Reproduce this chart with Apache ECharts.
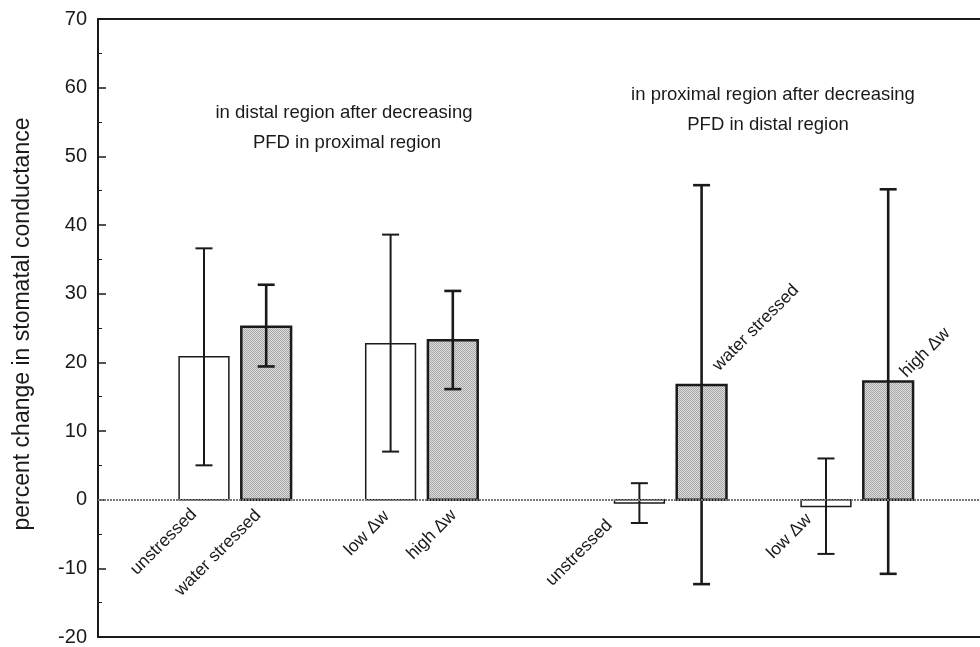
<!DOCTYPE html>
<html>
<head>
<meta charset="utf-8">
<script src="https://cdn.jsdelivr.net/npm/echarts@6/dist/echarts.min.js"></script>
<style>
html,body{margin:0;padding:0;background:#fff;}
#chart{width:980px;height:647px;}
</style>
</head>
<body>
<div id="chart"></div>
<script>
// ---- data ----
const categories = ['unstressed', 'water stressed', 'low \u0394w', 'high \u0394w',
                    'unstressed', 'water stressed', 'low \u0394w', 'high \u0394w'];
const xPositions = [1, 2, 4, 5, 8, 9, 11, 12];
const means   = [20.8, 25.2, 22.7, 23.2, -0.5, 16.7, -1.0, 17.2];
const errLow  = [5.0, 19.4, 7.0, 16.1, -3.4, -12.3, -7.9, -10.8];
const errHigh = [36.6, 31.3, 38.6, 30.4, 2.4, 45.8, 6.0, 45.2];
const stressed = [0, 1, 0, 1, 0, 1, 0, 1];
const yTicks = [-20, -10, 0, 10, 20, 30, 40, 50, 60, 70];
const yTitle = 'percent change in stomatal conductance';
const noteLeft = ['in distal region after decreasing', 'PFD in proximal region'];
const noteRight = ['in proximal region after decreasing', 'PFD in distal region'];

// ---- layout (pixels, not data) ----
const FONT = "'Liberation Sans', Arial, Helvetica, sans-serif";
const BAR_WIDTH = 0.8;
const LABEL_LAYOUT = [
  {side: 'below', dx: -10, dy: 12},
  {side: 'below', dx: -8,  dy: 13},
  {side: 'below', dx: -4,  dy: 14},
  {side: 'below', dx: 1,   dy: 13},
  {side: 'below', dx: -30, dy: 23},
  {side: 'above', dx: 14,  dy: -17},
  {side: 'below', dx: -17, dy: 17},
  {side: 'above', dx: 15,  dy: -7}
];

// stipple pattern for stressed bars
const pat = document.createElement('canvas');
pat.width = 2; pat.height = 2;
const pc = pat.getContext('2d');
pc.fillStyle = '#dcdcdc'; pc.fillRect(0, 0, 2, 2);
pc.fillStyle = '#a8a8a8'; pc.fillRect(0, 0, 1, 1); pc.fillRect(1, 1, 1, 1);

const seriesData = xPositions.map((x, i) => [x, means[i], errLow[i], errHigh[i], stressed[i]]);

const chart = echarts.init(document.getElementById('chart'), null, {renderer: 'canvas'});

function renderItem(params, api) {
  const i = params.dataIndex;
  const x = api.value(0), v = api.value(1), lo = api.value(2), hi = api.value(3), s = api.value(4);
  const w = api.size([BAR_WIDTH, 0])[0];
  const p0 = api.coord([x, 0]);
  const p1 = api.coord([x, v]);
  const pLo = api.coord([x, lo]);
  const pHi = api.coord([x, hi]);
  const cap = 8.5;
  const errW = s ? 2.6 : 2;
  const children = [
    {
      type: 'rect',
      shape: {x: p0[0] - w / 2, y: Math.min(p0[1], p1[1]), width: w, height: Math.abs(p1[1] - p0[1])},
      style: {fill: s ? {image: pat, repeat: 'repeat'} : '#fff', stroke: '#1a1a1a', lineWidth: s ? 2.5 : 1.5}
    },
    {type: 'line', shape: {x1: pLo[0], y1: pLo[1], x2: pHi[0], y2: pHi[1]}, style: {stroke: '#1a1a1a', lineWidth: errW}},
    {type: 'line', shape: {x1: pLo[0] - cap, y1: pLo[1], x2: pLo[0] + cap, y2: pLo[1]}, style: {stroke: '#1a1a1a', lineWidth: errW}},
    {type: 'line', shape: {x1: pHi[0] - cap, y1: pHi[1], x2: pHi[0] + cap, y2: pHi[1]}, style: {stroke: '#1a1a1a', lineWidth: errW}}
  ];
  const L = LABEL_LAYOUT[i];
  const below = L.side === 'below';
  children.push({
    type: 'text',
    x: p0[0] + L.dx,
    y: (below ? p0[1] : p1[1]) + L.dy,
    rotation: Math.PI / 4,
    style: {
      text: categories[i], fill: '#1a1a1a',
      font: '17.5px ' + FONT,
      align: below ? 'right' : 'left', verticalAlign: 'middle'
    }
  });
  return {type: 'group', children: children};
}

const option = {
  animation: false,
  backgroundColor: '#fff',
  grid: {left: 98, right: 0, top: 19, bottom: 10},
  xAxis: [
    {type: 'value', min: -0.704, max: 13.476, position: 'bottom',
     axisLine: {show: true, onZero: false, lineStyle: {color: '#1a1a1a', width: 2}},
     axisTick: {show: false}, axisLabel: {show: false}, splitLine: {show: false}},
    {type: 'value', min: -0.704, max: 13.476, position: 'top',
     axisLine: {show: true, onZero: false, lineStyle: {color: '#1a1a1a', width: 2}},
     axisTick: {show: false}, axisLabel: {show: false}, splitLine: {show: false}}
  ],
  yAxis: {
    type: 'value', min: yTicks[0], max: yTicks[yTicks.length - 1], interval: 10,
    position: 'left',
    axisLine: {show: true, onZero: false, lineStyle: {color: '#1a1a1a', width: 2}},
    axisTick: {show: true, inside: true, length: 8, lineStyle: {color: '#1a1a1a', width: 1.5}},
    minorTick: {show: true, splitNumber: 2, length: 4, lineStyle: {color: '#1a1a1a', width: 1}},
    axisLabel: {color: '#1a1a1a', fontSize: 20, fontFamily: FONT, margin: 11},
    splitLine: {show: false}
  },
  graphic: [
    {type: 'text', x: 23, y: 324, rotation: Math.PI / 2,
     style: {text: yTitle, font: '23px ' + FONT, fill: '#1a1a1a', align: 'center', verticalAlign: 'middle'}},
    {type: 'text', x: 344, y: 113,
     style: {text: noteLeft[0], font: '18.5px ' + FONT, fill: '#1a1a1a', align: 'center', verticalAlign: 'middle'}},
    {type: 'text', x: 347, y: 143,
     style: {text: noteLeft[1], font: '18.5px ' + FONT, fill: '#1a1a1a', align: 'center', verticalAlign: 'middle'}},
    {type: 'text', x: 773, y: 95,
     style: {text: noteRight[0], font: '18.5px ' + FONT, fill: '#1a1a1a', align: 'center', verticalAlign: 'middle'}},
    {type: 'text', x: 768, y: 125,
     style: {text: noteRight[1], font: '18.5px ' + FONT, fill: '#1a1a1a', align: 'center', verticalAlign: 'middle'}}
  ],
  series: [{
    type: 'custom',
    xAxisIndex: 0,
    renderItem: renderItem,
    data: seriesData,
    encode: {x: 0, y: [1, 2, 3]},
    clip: false,
    z: 3,
    markLine: {
      silent: true, symbol: ['none', 'none'], label: {show: false},
      lineStyle: {color: '#7a7a7a', width: 2, type: [2, 1]},
      data: [{yAxis: 0}]
    }
  }]
};
chart.setOption(option);
</script>
</body>
</html>
